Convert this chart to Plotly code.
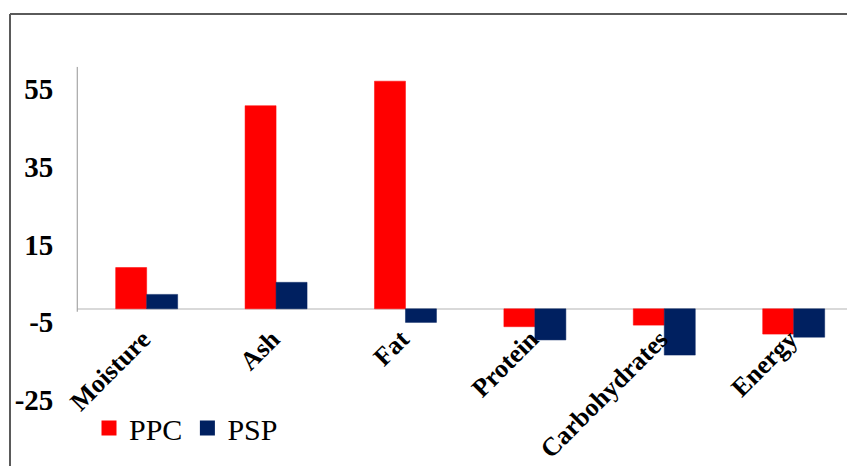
import plotly.graph_objects as go

# Proximate composition: percentage change of PPC and PSP
categories = ["Moisture", "Ash", "Fat", "Protein", "Carbohydrates", "Energy"]
ppc = [10.6, 52.2, 58.5, -4.6, -4.2, -6.5]
psp = [3.7, 6.8, -3.5, -8.0, -11.9, -7.3]
y_ticks = [-25, -5, 15, 35, 55]

series = [("PPC", ppc, "#ff0000"), ("PSP", psp, "#002060")]

W, H = 847, 466
SERIF = "Liberation Serif"

# plot area in pixels
left_px, right_px = 77.3, 847
top_px, bottom_px = 66.7, 446
y_top, y_bottom = 62.22, -35.26
zero_px = top_px + (y_top - 0) / (y_top - y_bottom) * (bottom_px - top_px)

fig = go.Figure()
for name, vals, col in series:
    fig.add_trace(go.Bar(name=name, x=categories, y=vals, marker_color=col,
                         marker_line=dict(color=col, width=0.5), showlegend=False))
# square legend keys
for name, vals, col in series:
    fig.add_trace(go.Scatter(name=name, x=[None], y=[None], mode="markers",
                             marker=dict(symbol="square", size=15, color=col)))

fig.update_layout(
    width=W, height=H,
    margin=dict(l=0, r=0, t=0, b=0, autoexpand=False),
    paper_bgcolor="white", plot_bgcolor="white",
    barmode="group", bargap=0.521, bargroupgap=0,
    font=dict(family=SERIF, color="black"),
    showlegend=True,
    legend=dict(orientation="h", x=89 / W, y=1 - 402 / H, xanchor="left", yanchor="top",
                font=dict(family=SERIF, size=30, color="black"),
                bgcolor="rgba(0,0,0,0)", itemwidth=30, tracegroupgap=0),
    xaxis=dict(
        domain=[left_px / W, right_px / W],
        range=[-0.536, 5.412],
        anchor="free", position=1 - zero_px / H,
        showline=False, showgrid=False, zeroline=False, ticks="",
        tickangle=-45, automargin=False,
        tickfont=dict(family=SERIF, size=26, color="black", weight="bold"),
        ticklabelstandoff=9, ticklabelshift=-4,
    ),
    yaxis=dict(
        domain=[1 - bottom_px / H, 1 - top_px / H],
        range=[y_bottom, y_top], automargin=False,
        tickmode="array", tickvals=y_ticks, ticktext=[str(v) for v in y_ticks],
        showline=False, showgrid=False, ticks="",
        zeroline=True, zerolinecolor="#d9d9d9", zerolinewidth=2,
        tickfont=dict(family=SERIF, size=29, color="black", weight="bold"),
        ticklabelstandoff=23, ticklabelshift=-6,
    ),
)

# vertical value-axis line (upper part down to the baseline)
fig.add_shape(type="line", xref="x domain", yref="y", x0=0, x1=0, y0=-0.75, y1=y_top,
              line=dict(color="#a6a6a6", width=1.2))

# outer chart frame (left and top edges)
fig.add_shape(type="line", xref="paper", yref="paper", x0=10 / W, x1=10 / W, y0=0, y1=1 - 14 / H,
              line=dict(color="#5a5a5a", width=2))
fig.add_shape(type="line", xref="paper", yref="paper", x0=10 / W, x1=1, y0=1 - 14 / H, y1=1 - 14 / H,
              line=dict(color="#5a5a5a", width=2))

fig.write_html("out.html")
